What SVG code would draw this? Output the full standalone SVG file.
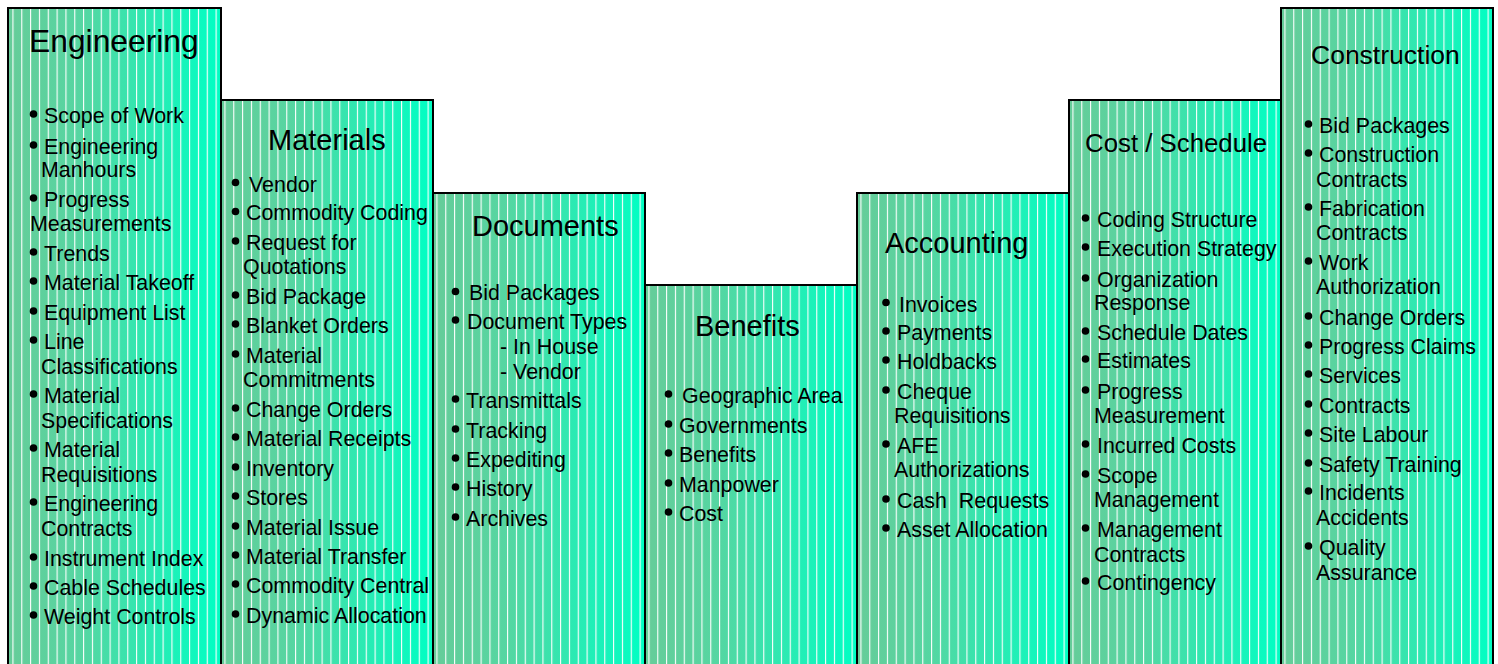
<svg xmlns="http://www.w3.org/2000/svg" width="1498" height="664" viewBox="0 0 1498 664">
<defs>
<linearGradient id="g" x1="0" y1="0" x2="1" y2="0">
<stop offset="0" stop-color="#66CC99"/>
<stop offset="0.35" stop-color="#55D6A2"/>
<stop offset="1" stop-color="#00FFC4"/>
</linearGradient>
<pattern id="st" patternUnits="userSpaceOnUse" x="12.4" y="0" width="8.8333" height="20">
<rect x="0" y="0" width="1.1" height="20" fill="#FFFFFF"/>
</pattern>
</defs>
<style>
.box{fill:url(#g);stroke:none}
.str{fill:url(#st);stroke:none}
.bd{fill:none;stroke:#000;stroke-width:2}
.t{font-family:"Liberation Sans",Arial,sans-serif;fill:#000}
.it{font-family:"Liberation Sans",Arial,sans-serif;font-size:21.4px;fill:#000}
.b{fill:#000}
.b circle{r:3.8px}
</style>
<rect width="1498" height="664" fill="#FFFFFF"/>

<g id="engineering">
<rect class="box" x="8" y="8" width="213" height="670"/>
<rect class="str" x="8" y="8" width="213" height="670"/>
<rect class="bd" x="8" y="8" width="213" height="670"/>
<text class="t" x="29" y="52" font-size="31.8">Engineering</text>
<g class="it">
<text x="44" y="123">Scope of Work</text>
<text x="44" y="154">Engineering</text><text x="41" y="177">Manhours</text>
<text x="44" y="207">Progress</text><text x="30" y="231">Measurements</text>
<text x="44" y="261">Trends</text>
<text x="44" y="290">Material Takeoff</text>
<text x="44" y="320">Equipment List</text>
<text x="44" y="349">Line</text><text x="41" y="374">Classifications</text>
<text x="44" y="403">Material</text><text x="41" y="428">Specifications</text>
<text x="44" y="457">Material</text><text x="41" y="482">Requisitions</text>
<text x="44" y="511">Engineering</text><text x="41" y="536">Contracts</text>
<text x="44" y="566">Instrument Index</text>
<text x="44" y="595">Cable Schedules</text>
<text x="44" y="624">Weight Controls</text>
</g>
<g class="b">
<circle cx="33.5" cy="114" r="3.8"/><circle cx="33.5" cy="145" r="3.8"/><circle cx="33.5" cy="198" r="3.8"/>
<circle cx="33.5" cy="252" r="3.8"/><circle cx="33.5" cy="281" r="3.8"/><circle cx="33.5" cy="311" r="3.8"/>
<circle cx="33.5" cy="340" r="3.8"/><circle cx="33.5" cy="394" r="3.8"/><circle cx="33.5" cy="448" r="3.8"/>
<circle cx="33.5" cy="502" r="3.8"/><circle cx="33.5" cy="557" r="3.8"/><circle cx="33.5" cy="586" r="3.8"/>
<circle cx="33.5" cy="615" r="3.8"/>
</g>
</g>

<g id="materials">
<rect class="box" x="221" y="100" width="212" height="580"/>
<rect class="str" x="221" y="100" width="212" height="580"/>
<rect class="bd" x="221" y="100" width="212" height="580"/>
<text class="t" x="268" y="150" font-size="29">Materials</text>
<g class="it">
<text x="249" y="192">Vendor</text>
<text x="246" y="220">Commodity Coding</text>
<text x="246" y="250">Request for</text><text x="243" y="274">Quotations</text>
<text x="246" y="304">Bid Package</text>
<text x="246" y="333">Blanket Orders</text>
<text x="246" y="363">Material</text><text x="243" y="387">Commitments</text>
<text x="246" y="417">Change Orders</text>
<text x="246" y="446">Material Receipts</text>
<text x="246" y="476">Inventory</text>
<text x="246" y="505">Stores</text>
<text x="246" y="535">Material Issue</text>
<text x="246" y="564">Material Transfer</text>
<text x="246" y="593">Commodity Central</text>
<text x="246" y="623">Dynamic Allocation</text>
</g>
<g class="b">
<circle cx="235.5" cy="182.5" r="3.8"/><circle cx="235.5" cy="211.5" r="3.8"/><circle cx="235.5" cy="241" r="3.8"/>
<circle cx="235.5" cy="295" r="3.8"/><circle cx="235.5" cy="324" r="3.8"/><circle cx="235.5" cy="354" r="3.8"/>
<circle cx="235.5" cy="408" r="3.8"/><circle cx="235.5" cy="437" r="3.8"/><circle cx="235.5" cy="467" r="3.8"/>
<circle cx="235.5" cy="496" r="3.8"/><circle cx="235.5" cy="526" r="3.8"/><circle cx="235.5" cy="555" r="3.8"/>
<circle cx="235.5" cy="584" r="3.8"/><circle cx="235.5" cy="614" r="3.8"/>
</g>
</g>

<g id="documents">
<rect class="box" x="433" y="193" width="212" height="490"/>
<rect class="str" x="433" y="193" width="212" height="490"/>
<rect class="bd" x="433" y="193" width="212" height="490"/>
<text class="t" x="472" y="236" font-size="29">Documents</text>
<g class="it">
<text x="469" y="300">Bid Packages</text>
<text x="467" y="329">Document Types</text>
<text x="500" y="354">- In House</text>
<text x="500" y="379">- Vendor</text>
<text x="466" y="408">Transmittals</text>
<text x="466" y="438">Tracking</text>
<text x="466" y="467">Expediting</text>
<text x="466" y="496">History</text>
<text x="466" y="526">Archives</text>
</g>
<g class="b">
<circle cx="455.5" cy="291.5" r="3.8"/><circle cx="455.5" cy="320" r="3.8"/><circle cx="455.5" cy="399" r="3.8"/>
<circle cx="455.5" cy="429" r="3.8"/><circle cx="455.5" cy="458" r="3.8"/><circle cx="455.5" cy="487" r="3.8"/>
<circle cx="455.5" cy="517" r="3.8"/>
</g>
</g>

<g id="benefits">
<rect class="box" x="645" y="285" width="212" height="400"/>
<rect class="str" x="645" y="285" width="212" height="400"/>
<rect class="bd" x="645" y="285" width="212" height="400"/>
<text class="t" x="695" y="336" font-size="29">Benefits</text>
<g class="it">
<text x="682" y="403">Geographic Area</text>
<text x="679" y="433">Governments</text>
<text x="679" y="462">Benefits</text>
<text x="679" y="492">Manpower</text>
<text x="679" y="521">Cost</text>
</g>
<g class="b">
<circle cx="668.5" cy="394" r="3.8"/><circle cx="668.5" cy="424" r="3.8"/><circle cx="668.5" cy="453" r="3.8"/>
<circle cx="668.5" cy="483" r="3.8"/><circle cx="668.5" cy="512" r="3.8"/>
</g>
</g>

<g id="accounting">
<rect class="box" x="857" y="193" width="212" height="490"/>
<rect class="str" x="857" y="193" width="212" height="490"/>
<rect class="bd" x="857" y="193" width="212" height="490"/>
<text class="t" x="885" y="253" font-size="29">Accounting</text>
<g class="it">
<text x="899" y="312">Invoices</text>
<text x="897" y="340">Payments</text>
<text x="897" y="369">Holdbacks</text>
<text x="897" y="399">Cheque</text><text x="894" y="423">Requisitions</text>
<text x="897" y="453">AFE</text><text x="894" y="477">Authorizations</text>
<text x="897" y="508" style="white-space:pre">Cash  Requests</text>
<text x="897" y="537">Asset Allocation</text>
</g>
<g class="b">
<circle cx="886" cy="302.5" r="3.8"/><circle cx="886" cy="331" r="3.8"/><circle cx="886" cy="360" r="3.8"/>
<circle cx="886" cy="390" r="3.8"/><circle cx="886" cy="444" r="3.8"/><circle cx="886" cy="499" r="3.8"/>
<circle cx="886" cy="528" r="3.8"/>
</g>
</g>

<g id="cost-schedule">
<rect class="box" x="1069" y="100" width="212" height="580"/>
<rect class="str" x="1069" y="100" width="212" height="580"/>
<rect class="bd" x="1069" y="100" width="212" height="580"/>
<text class="t" x="1085" y="152" font-size="25.8">Cost / Schedule</text>
<g class="it">
<text x="1097" y="227">Coding Structure</text>
<text x="1097" y="256">Execution Strategy</text>
<text x="1097" y="287">Organization</text><text x="1094" y="310">Response</text>
<text x="1097" y="340">Schedule Dates</text>
<text x="1097" y="368">Estimates</text>
<text x="1097" y="399">Progress</text><text x="1094" y="423">Measurement</text>
<text x="1097" y="453">Incurred Costs</text>
<text x="1097" y="483">Scope</text><text x="1094" y="507">Management</text>
<text x="1097" y="537">Management</text><text x="1094" y="562">Contracts</text>
<text x="1097" y="590">Contingency</text>
</g>
<g class="b">
<circle cx="1085.5" cy="218" r="3.8"/><circle cx="1085.5" cy="247" r="3.8"/><circle cx="1085.5" cy="278" r="3.8"/>
<circle cx="1085.5" cy="331" r="3.8"/><circle cx="1085.5" cy="359" r="3.8"/><circle cx="1085.5" cy="390" r="3.8"/>
<circle cx="1085.5" cy="444" r="3.8"/><circle cx="1085.5" cy="474" r="3.8"/><circle cx="1085.5" cy="528" r="3.8"/>
<circle cx="1085.5" cy="581" r="3.8"/>
</g>
</g>

<g id="construction">
<rect class="box" x="1281" y="8" width="212" height="670"/>
<rect class="str" x="1281" y="8" width="212" height="670"/>
<rect class="bd" x="1281" y="8" width="212" height="670"/>
<text class="t" x="1311" y="64" font-size="26.5">Construction</text>
<g class="it">
<text x="1319" y="133">Bid Packages</text>
<text x="1319" y="162">Construction</text><text x="1316" y="187">Contracts</text>
<text x="1319" y="216">Fabrication</text><text x="1316" y="240">Contracts</text>
<text x="1319" y="270">Work</text><text x="1316" y="294">Authorization</text>
<text x="1319" y="325">Change Orders</text>
<text x="1319" y="354">Progress Claims</text>
<text x="1319" y="383">Services</text>
<text x="1319" y="413">Contracts</text>
<text x="1319" y="442">Site Labour</text>
<text x="1319" y="472">Safety Training</text>
<text x="1319" y="500">Incidents</text><text x="1316" y="525">Accidents</text>
<text x="1319" y="555">Quality</text><text x="1316" y="580">Assurance</text>
</g>
<g class="b">
<circle cx="1308.5" cy="124" r="3.8"/><circle cx="1308.5" cy="153" r="3.8"/><circle cx="1308.5" cy="207" r="3.8"/>
<circle cx="1308.5" cy="261" r="3.8"/><circle cx="1308.5" cy="316" r="3.8"/><circle cx="1308.5" cy="345" r="3.8"/>
<circle cx="1308.5" cy="374" r="3.8"/><circle cx="1308.5" cy="404" r="3.8"/><circle cx="1308.5" cy="433" r="3.8"/>
<circle cx="1308.5" cy="463" r="3.8"/><circle cx="1308.5" cy="491" r="3.8"/><circle cx="1308.5" cy="546" r="3.8"/>
</g>
</g>
</svg>
